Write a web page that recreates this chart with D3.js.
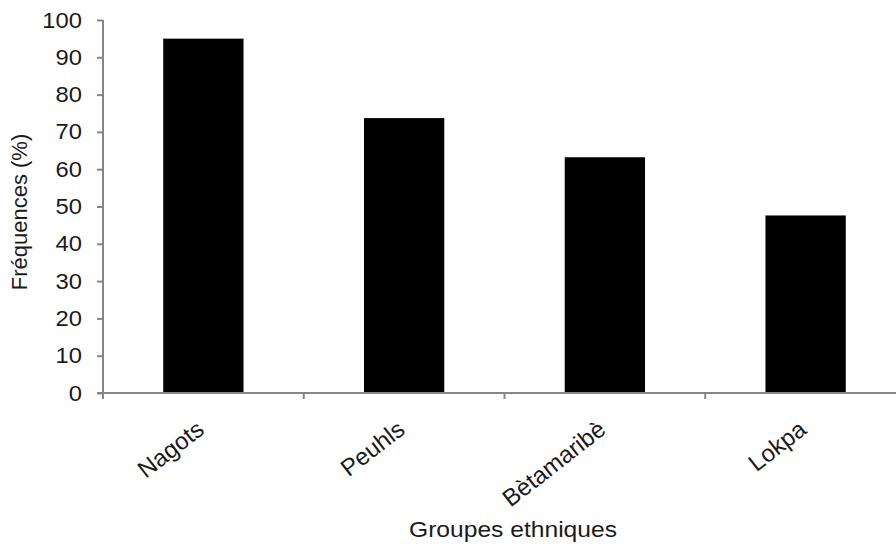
<!DOCTYPE html>
<html><head><meta charset="utf-8">
<script src="https://cdn.jsdelivr.net/npm/d3@7"></script>
<style>html,body{margin:0;padding:0;background:#fff;}svg{display:block;}</style>
</head><body>
<script>
const categories = ["Nagots", "Peuhls", "Bètamaribè", "Lokpa"];
const values = [95, 73.7, 63.2, 47.6];
const yTicks = [0, 10, 20, 30, 40, 50, 60, 70, 80, 90, 100];
const yTitle = "Fréquences (%)";
const xTitle = "Groupes ethniques";

const W = 896, H = 544;
const svg = d3.select("body").append("svg").attr("width", W).attr("height", H);
const font = "'Liberation Sans', Arial, sans-serif";
const axisColor = "#868686";
const textColor = "#1a1a1a";

const x = d3.scaleBand().domain(categories).range([103, 906]).paddingInner(0.6).paddingOuter(0.3);
const y = d3.scaleLinear().domain([0, 100]).range([393, 20]);

// bars
svg.append("g").selectAll("rect").data(categories).join("rect")
  .attr("x", d => x(d)).attr("width", x.bandwidth())
  .attr("y", (d, i) => y(values[i])).attr("height", (d, i) => y(0) - y(values[i]))
  .attr("fill", "#000");

// y axis
const ya = svg.append("g").attr("transform", "translate(103,0)")
  .call(d3.axisLeft(y).tickValues(yTicks).tickSize(6).tickPadding(15));
ya.select(".domain").attr("stroke", axisColor).attr("stroke-width", 2).attr("d", `M0,${y(100)}V${y(0)}`);
ya.selectAll(".tick line").attr("stroke", axisColor).attr("stroke-width", 2);
ya.selectAll(".tick text").attr("font-family", font).attr("font-size", 22).attr("fill", textColor)
  .attr("textLength", function () { return this.getComputedTextLength() * 1.08; })
  .attr("lengthAdjust", "spacingAndGlyphs");

// x axis (ticks at band boundaries)
const half = (x.step() - x.bandwidth()) / 2;
const bounds = categories.map(c => x(c) - half).concat([x(categories[categories.length - 1]) + x.bandwidth() + half]);
const xa = svg.append("g");
xa.append("line").attr("x1", 97).attr("x2", W).attr("y1", y(0)).attr("y2", y(0))
  .attr("stroke", axisColor).attr("stroke-width", 2);
xa.selectAll("line.t").data(bounds).join("line").attr("class", "t")
  .attr("x1", d => d).attr("x2", d => d).attr("y1", y(0)).attr("y2", y(0) + 6)
  .attr("stroke", axisColor).attr("stroke-width", 2);

// rotated category labels
svg.append("g").selectAll("text").data(categories).join("text")
  .attr("transform", d => `translate(${x(d) + x.bandwidth() / 2 - 8},${y(0) + 26}) rotate(-38)`)
  .attr("text-anchor", "end").attr("dy", "0.7em")
  .attr("font-family", font).attr("font-size", 24).attr("fill", textColor)
  .text(d => d);

// titles
svg.append("text").attr("transform", `translate(27,212) rotate(-90)`)
  .attr("text-anchor", "middle").attr("font-family", font).attr("font-size", 22).attr("fill", textColor)
  .text(yTitle);
svg.append("text").attr("x", 513).attr("y", 537)
  .attr("text-anchor", "middle").attr("font-family", font).attr("font-size", 22).attr("fill", textColor)
  .attr("textLength", 208).attr("lengthAdjust", "spacingAndGlyphs")
  .text(xTitle);
</script>
</body></html>
